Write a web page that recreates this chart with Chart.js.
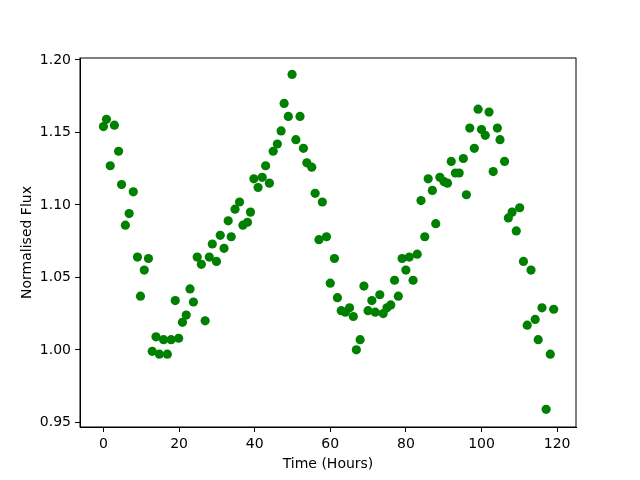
<!DOCTYPE html>
<html>
<head>
<meta charset="utf-8">
<script src="https://cdn.jsdelivr.net/npm/chart.js@4"></script>
<style>
  body { margin: 0; background: #fff; }
  #wrap { width: 640px; height: 480px; }
</style>
</head>
<body>
<div id="wrap"><canvas id="chart" width="640" height="480"></canvas></div>
<script>
const timeHours = [
  0, 0.8, 1.8, 2.9, 4.0, 4.8, 5.8, 6.8, 7.9, 9.0, 9.8, 10.8, 11.9, 12.9, 13.9, 14.8, 15.9, 16.9, 17.9, 19.0,
  19.9, 20.9, 21.9, 22.9, 23.8, 24.8, 25.9, 26.9,
  28.0, 28.8, 29.9, 30.9, 31.9, 33.0, 33.8, 34.8, 36.0, 36.9, 38.1, 38.9, 39.8, 40.9, 42.0, 42.9, 43.9, 44.9,
  46.0, 47.0, 47.8, 48.9, 49.9, 50.9, 52.0, 52.9, 53.8, 55.1, 56.0, 57.0, 57.9, 59.0,
  60.0, 61.1, 61.9, 62.9, 64.0, 65.1, 66.1, 66.9, 67.9, 68.9, 70.0, 71.0, 71.9, 73.1, 74.0, 75.0, 76.0, 77.0,
  78.0, 79.0, 80.0, 80.9, 81.9, 83.0, 84.0, 85.0, 85.9, 87.0, 87.9, 89.0,
  90.1, 91.0, 92.0, 93.1, 94.1, 95.2, 96.0, 96.9, 98.1, 99.1, 100.0, 101.0, 102.0, 103.1, 104.2, 104.9,
  106.1, 107.1, 108.1, 109.2, 110.1, 111.1, 112.1, 113.1, 114.2, 115.0, 116.0, 117.1, 118.2, 119.1
];
const flux = [
  1.154, 1.159, 1.127, 1.155, 1.137, 1.114, 1.086, 1.094, 1.109, 1.064, 1.037, 1.055, 1.063, 0.999, 1.009,
  0.997, 1.007, 0.997, 1.007, 1.034, 1.008, 1.019, 1.024, 1.042, 1.033, 1.064, 1.059, 1.020,
  1.064, 1.073, 1.061, 1.079, 1.070, 1.089, 1.078, 1.097, 1.102, 1.086, 1.088, 1.095, 1.118, 1.112, 1.119,
  1.127, 1.115, 1.137, 1.142, 1.151, 1.170, 1.161, 1.190, 1.145, 1.161, 1.139, 1.129, 1.126, 1.108, 1.076,
  1.102, 1.078,
  1.046, 1.063, 1.036, 1.027, 1.026, 1.029, 1.023, 1.000, 1.007, 1.044, 1.027, 1.034, 1.026, 1.038, 1.025,
  1.029, 1.031, 1.048, 1.037, 1.063, 1.055, 1.064, 1.048, 1.066, 1.103, 1.078, 1.118, 1.110, 1.087, 1.119,
  1.116, 1.115, 1.130, 1.122, 1.122, 1.132, 1.107, 1.153, 1.139, 1.166, 1.152, 1.148, 1.164, 1.123, 1.153,
  1.145, 1.130, 1.091, 1.095, 1.082, 1.098, 1.061, 1.017, 1.055, 1.021, 1.007, 1.029, 0.959, 0.997, 1.028
];
const xTicks = [0, 20, 40, 60, 80, 100, 120];
const yTicks = [0.95, 1.00, 1.05, 1.10, 1.15, 1.20];

const points = timeHours.map((t, i) => ({ x: t, y: flux[i] }));

// draws the top and right spines like matplotlib
const frame = {
  id: 'frame',
  afterDraw(chart) {
    const { ctx, chartArea: a } = chart;
    ctx.save();
    ctx.strokeStyle = '#000';
    ctx.lineWidth = 1;
    ctx.strokeRect(a.left, a.top, a.right - a.left, a.bottom - a.top);
    ctx.restore();
  }
};

const font = { family: 'DejaVu Sans', size: 14 };

new Chart(document.getElementById('chart').getContext('2d'), {
  type: 'scatter',
  data: {
    datasets: [{
      data: points,
      backgroundColor: '#008000',
      borderColor: '#008000',
      borderWidth: 0,
      pointRadius: 4.6,
      pointHoverRadius: 4.6
    }]
  },
  options: {
    responsive: false,
    animation: false,
    layout: { padding: { left: 0, top: 58, right: 64, bottom: 0 } },
    plugins: { legend: { display: false }, tooltip: { enabled: false } },
    scales: {
      x: {
        type: 'linear',
        min: -6.2,
        max: 125.0,
        afterBuildTicks: axis => { axis.ticks = xTicks.map(v => ({ value: v })); },
        afterFit: axis => { axis.height = 53; },
        grid: { drawOnChartArea: false, drawTicks: true, tickLength: 5, color: '#000' },
        border: { display: true, color: '#000' },
        ticks: { color: '#000', font, padding: 4, maxRotation: 0, callback: v => String(v) },
        title: { display: true, text: 'Time (Hours)', color: '#000', font, padding: { top: 0, bottom: 7 } }
      },
      y: {
        type: 'linear',
        min: 0.9468,
        max: 1.2013,
        afterBuildTicks: axis => { axis.ticks = yTicks.map(v => ({ value: v })); },
        afterFit: axis => { axis.width = 80; },
        grid: { drawOnChartArea: false, drawTicks: true, tickLength: 5, color: '#000' },
        border: { display: true, color: '#000' },
        ticks: { color: '#000', font, padding: 4, callback: v => v.toFixed(2) },
        title: { display: true, text: 'Normalised Flux', color: '#000', font, padding: { top: 19, bottom: 0 } }
      }
    }
  },
  plugins: [frame]
});
</script>
</body>
</html>
